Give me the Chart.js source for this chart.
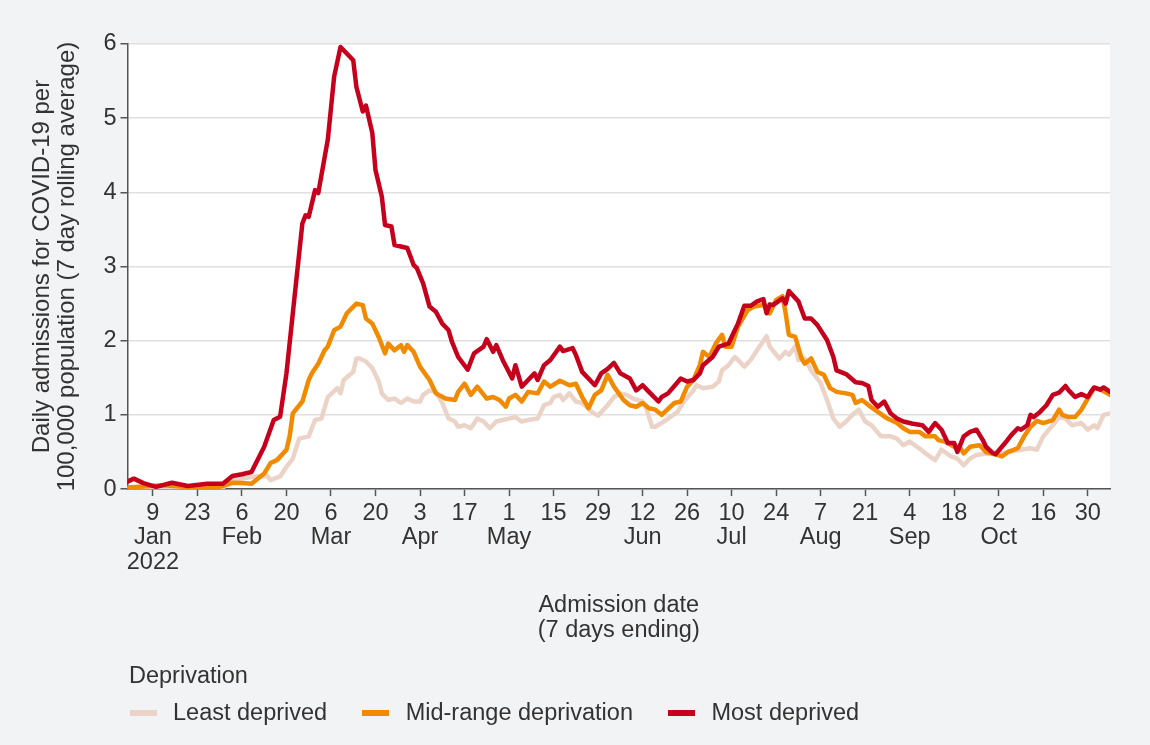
<!DOCTYPE html>
<html>
<head>
<meta charset="utf-8">
<script src="https://cdn.jsdelivr.net/npm/chart.js@4.4.1/dist/chart.umd.min.js"></script>
<style>
  body { margin: 0; background: #f2f3f5; font-family: "Liberation Sans", Arial, sans-serif; color: #333; }
  #wrap { position: relative; width: 1150px; height: 745px; }
  #legend { position: absolute; left: 129px; top: 663px; font-size: 23.5px; line-height: 25px; }
  #legend .items { display: flex; margin-top: 12px; margin-left: 0.5px; }
  #legend .item { display: flex; align-items: center; margin-right: 35px; }
  #legend .sw { width: 27px; height: 6px; margin-right: 16.5px; }
</style>
</head>
<body>
<div id="wrap">
  <canvas id="admChart" width="1150" height="745"></canvas>
  <div id="legend">
    <div class="title">Deprivation</div>
    <div class="items"></div>
  </div>
</div>
<script>
// days since 1 Jan 2022
const tickDays = [8, 22, 36, 50, 64, 78, 92, 106, 120, 134, 148, 162, 176, 190, 204, 218, 232, 246, 260, 274, 288, 302];
const tickLabels = [['9', 'Jan', '2022'], '23', ['6', 'Feb'], '20', ['6', 'Mar'], '20', ['3', 'Apr'], '17', ['1', 'May'], '15', '29',
  ['12', 'Jun'], '26', ['10', 'Jul'], '24', ['7', 'Aug'], '21', ['4', 'Sep'], '18', ['2', 'Oct'], '16', '30'];

const seriesNames = ['Least deprived', 'Mid-range deprivation', 'Most deprived'];
const seriesColors = ['#ebd4c7', '#f28a00', '#c6001c'];

const leastDays = [0, 10, 20, 30, 33, 37, 40, 44, 45, 48, 50, 52, 54, 57, 59, 61, 63, 66, 67, 68, 71, 72, 73, 75, 77, 79, 80, 82, 84, 86,
  88, 90, 92, 93, 95, 97, 99, 101, 103, 104, 106, 108, 110, 112, 114, 116, 118, 120, 122, 124, 126, 129, 131, 133, 134, 136, 137, 139, 141, 143,
  146, 148, 151, 153, 155, 157, 159, 162, 163, 165, 166, 168, 170, 173, 175, 178, 179, 181, 184, 186, 187, 189, 191, 192, 194, 196, 198, 201, 202, 205,
  207, 208, 210, 211, 213, 215, 218, 220, 222, 224, 226, 228, 230, 232, 234, 237, 240, 242, 244, 246, 249, 251, 254, 256, 259, 261, 263, 265, 267, 270,
  273, 277, 281, 284, 286, 288, 291, 293, 295, 297, 300, 302, 304, 305, 307, 309];
const leastVals = [0.01, 0.02, 0.01, 0.02, 0.12, 0.15, 0.17, 0.175, 0.12, 0.17, 0.30, 0.41, 0.68, 0.71, 0.93, 0.95, 1.24, 1.36, 1.29, 1.47, 1.58, 1.76, 1.76, 1.72, 1.63, 1.45, 1.29, 1.20, 1.22, 1.16,
  1.22, 1.18, 1.18, 1.27, 1.33, 1.31, 1.16, 0.95, 0.91, 0.84, 0.86, 0.82, 0.95, 0.91, 0.82, 0.91, 0.93, 0.95, 0.97, 0.91, 0.93, 0.95, 1.13, 1.16, 1.24, 1.27, 1.20, 1.29, 1.18, 1.16,
  1.04, 0.99, 1.13, 1.24, 1.29, 1.27, 1.22, 1.18, 1.11, 0.84, 0.84, 0.89, 0.95, 1.04, 1.18, 1.33, 1.40, 1.36, 1.38, 1.45, 1.60, 1.67, 1.78, 1.74, 1.65, 1.74, 1.87, 2.06, 1.92, 1.76,
  1.85, 1.81, 1.92, 1.74, 1.76, 1.60, 1.43, 1.20, 0.95, 0.84, 0.91, 1.00, 1.07, 0.91, 0.86, 0.71, 0.71, 0.68, 0.59, 0.64, 0.55, 0.48, 0.39, 0.53, 0.44, 0.41, 0.32, 0.41, 0.46, 0.48,
  0.47, 0.50, 0.53, 0.55, 0.53, 0.71, 0.86, 0.97, 0.95, 0.86, 0.89, 0.80, 0.86, 0.82, 1.00, 1.02];

const midDays = [0, 11, 18, 29, 33, 36, 39, 43, 45, 47, 50, 51, 52, 55, 57, 58, 60, 62, 63, 65, 67, 69, 72, 74, 75, 77, 79, 81, 82, 84,
  86, 87, 88, 90, 92, 95, 97, 100, 103, 104, 106, 108, 110, 113, 115, 117, 119, 120, 122, 124, 126, 129, 131, 133, 136, 139, 141, 143, 145, 147,
  149, 151, 153, 156, 158, 160, 162, 164, 166, 168, 169, 172, 174, 176, 178, 180, 181, 183, 185, 187, 188, 190, 192, 195, 197, 200, 202, 204, 206, 207,
  208, 210, 212, 213, 215, 217, 219, 221, 223, 226, 228, 229, 231, 234, 236, 239, 242, 244, 246, 249, 251, 254, 255, 257, 260, 262, 263, 265, 268, 270,
  272, 275, 277, 280, 282, 284, 286, 288, 291, 293, 294, 296, 298, 300, 302, 304, 306, 309];
const midVals = [0.02, 0.05, 0.03, 0.03, 0.085, 0.08, 0.07, 0.21, 0.35, 0.39, 0.53, 0.71, 1.02, 1.18, 1.47, 1.56, 1.69, 1.87, 1.92, 2.14, 2.19, 2.37, 2.50, 2.48, 2.30, 2.23, 2.05, 1.83, 1.96, 1.87,
  1.94, 1.85, 1.94, 1.85, 1.65, 1.47, 1.29, 1.22, 1.20, 1.31, 1.42, 1.27, 1.38, 1.22, 1.24, 1.20, 1.11, 1.22, 1.27, 1.18, 1.31, 1.29, 1.45, 1.38, 1.46, 1.40, 1.42, 1.24, 1.09, 1.27,
  1.33, 1.54, 1.38, 1.20, 1.13, 1.11, 1.16, 1.09, 1.07, 1.00, 1.04, 1.16, 1.18, 1.38, 1.47, 1.67, 1.85, 1.78, 1.96, 2.08, 1.92, 1.92, 2.19, 2.41, 2.46, 2.48, 2.37, 2.55, 2.60, 2.37,
  2.08, 2.05, 1.76, 1.69, 1.76, 1.58, 1.54, 1.36, 1.31, 1.29, 1.27, 1.16, 1.20, 1.10, 1.04, 0.95, 0.89, 0.82, 0.77, 0.77, 0.71, 0.71, 0.66, 0.64, 0.57, 0.55, 0.48, 0.57, 0.59, 0.50,
  0.48, 0.44, 0.50, 0.55, 0.71, 0.84, 0.92, 0.89, 0.93, 1.07, 1.00, 0.97, 0.97, 1.07, 1.22, 1.36, 1.34, 1.27];

const mostDays = [0, 2, 5, 9, 14, 19, 25, 30, 33, 36, 39, 43, 46, 48, 50, 52, 55, 56, 57, 59, 60, 63, 65, 67, 71, 72, 74, 75, 77, 78,
  80, 81, 83, 84, 88, 90, 91, 93, 95, 97, 99, 101, 102, 104, 107, 109, 112, 113, 115, 116, 118, 121, 122, 124, 126, 128, 129, 131, 133, 136,
  137, 140, 141, 143, 147, 149, 151, 153, 155, 158, 160, 162, 164, 167, 168, 170, 174, 176, 178, 180, 181, 184, 186, 189, 191, 192, 194, 196, 198, 200,
  201, 202, 203, 206, 207, 208, 211, 213, 215, 217, 220, 222, 223, 226, 229, 231, 233, 234, 236, 238, 240, 242, 244, 247, 250, 252, 254, 256, 258, 260,
  261, 263, 265, 267, 269, 270, 272, 273, 276, 278, 280, 281, 283, 284, 285, 287, 289, 291, 293, 295, 296, 298, 300, 302, 303, 304, 306, 307, 309];
const mostVals = [0.10, 0.14, 0.08, 0.03, 0.085, 0.04, 0.07, 0.07, 0.175, 0.20, 0.23, 0.57, 0.93, 0.975, 1.56, 2.37, 3.58, 3.69, 3.67, 4.03, 3.99, 4.71, 5.56, 5.96, 5.78, 5.42, 5.09, 5.17, 4.80, 4.30,
  3.94, 3.56, 3.54, 3.29, 3.25, 3.02, 2.98, 2.77, 2.46, 2.39, 2.23, 2.14, 1.99, 1.78, 1.61, 1.83, 1.92, 2.02, 1.85, 1.94, 1.74, 1.49, 1.67, 1.38, 1.47, 1.56, 1.47, 1.67, 1.74, 1.92,
  1.86, 1.90, 1.81, 1.58, 1.40, 1.56, 1.62, 1.70, 1.56, 1.49, 1.33, 1.40, 1.31, 1.18, 1.24, 1.29, 1.49, 1.45, 1.47, 1.56, 1.67, 1.78, 1.92, 1.96, 2.14, 2.23, 2.47, 2.47, 2.53, 2.56,
  2.37, 2.49, 2.48, 2.57, 2.50, 2.67, 2.53, 2.30, 2.30, 2.21, 2.01, 1.78, 1.60, 1.55, 1.44, 1.43, 1.39, 1.20, 1.11, 1.18, 1.02, 0.95, 0.91, 0.88, 0.86, 0.77, 0.89, 0.80, 0.62, 0.62,
  0.50, 0.71, 0.77, 0.80, 0.66, 0.57, 0.49, 0.47, 0.62, 0.73, 0.82, 0.80, 0.86, 1.00, 0.97, 1.04, 1.13, 1.27, 1.30, 1.39, 1.33, 1.24, 1.28, 1.24, 1.31, 1.37, 1.34, 1.37, 1.31];

const toPoints = (days, vals) => days.map((d, i) => ({ x: d, y: vals[i] }));

const font = { family: '"Liberation Sans", Arial, sans-serif', size: 23.5 };
const textColor = '#333333';
const axisColor = '#555555';

const plotBackground = {
  id: 'plotBackground',
  beforeDraw(chart) {
    const { ctx, chartArea } = chart;
    ctx.save();
    ctx.fillStyle = '#ffffff';
    ctx.fillRect(chartArea.left, chartArea.top, chartArea.right - chartArea.left, chartArea.bottom - chartArea.top);
    ctx.restore();
  },
};

const allSeries = [
  [leastDays, leastVals],
  [midDays, midVals],
  [mostDays, mostVals],
];

const datasets = allSeries.map(([days, vals], i) => ({
  label: seriesNames[i],
  data: toPoints(days, vals),
  borderColor: seriesColors[i],
  borderWidth: 4.5,
  pointRadius: 0,
  tension: 0,
  borderJoinStyle: 'round',
  borderCapStyle: 'round',
  order: 3 - i,
}));

const ctx = document.getElementById('admChart');
const admChart = new Chart(ctx, {
  type: 'line',
  data: { datasets },
  plugins: [plotBackground],
  options: {
    responsive: false,
    animation: false,
    layout: { padding: { top: 44, left: 30, right: 40, bottom: 102 } },
    plugins: {
      legend: { display: false },
      tooltip: { enabled: false },
    },
    scales: {
      x: {
        type: 'linear',
        min: 0,
        max: 309,
        afterBuildTicks: (scale) => {
          scale.ticks = tickDays.map((v) => ({ value: v }));
        },
        ticks: {
          autoSkip: false,
          maxRotation: 0,
          padding: 5,
          color: textColor,
          font: { ...font, lineHeight: 1.045 },
          callback: (value) => {
            const i = tickDays.indexOf(value);
            return i >= 0 ? tickLabels[i] : '';
          },
        },
        grid: {
          display: true,
          drawOnChartArea: false,
          drawTicks: true,
          tickLength: 7,
          tickColor: axisColor,
          tickWidth: 1.5,
        },
        border: { display: true, color: axisColor, width: 1.5 },
        title: {
          display: true,
          text: ['Admission date', '(7 days ending)'],
          color: textColor,
          font: { ...font, lineHeight: 1.07 },
          padding: { top: 13, bottom: 0 },
        },
      },
      y: {
        min: 0,
        max: 6,
        ticks: {
          stepSize: 1,
          padding: 4,
          color: textColor,
          font,
        },
        grid: {
          color: '#e0e0e0',
          lineWidth: 1.5,
          tickLength: 7,
          tickColor: axisColor,
          tickWidth: 1.5,
        },
        border: { display: true, color: axisColor, width: 1.5 },
        title: {
          display: true,
          text: ['Daily admissions for COVID-19 per', '100,000 population (7 day rolling average)'],
          color: textColor,
          font: { ...font, size: 24, lineHeight: 1.05 },
          padding: { top: 0, bottom: 19 },
        },
      },
    },
  },
});

// HTML legend, in the reference's order
const items = document.querySelector('#legend .items');
seriesNames.forEach((name, i) => {
  const item = document.createElement('div');
  item.className = 'item';
  item.innerHTML = `<span class="sw" style="background:${seriesColors[i]}"></span><span>${name}</span>`;
  items.appendChild(item);
});
</script>
</body>
</html>
